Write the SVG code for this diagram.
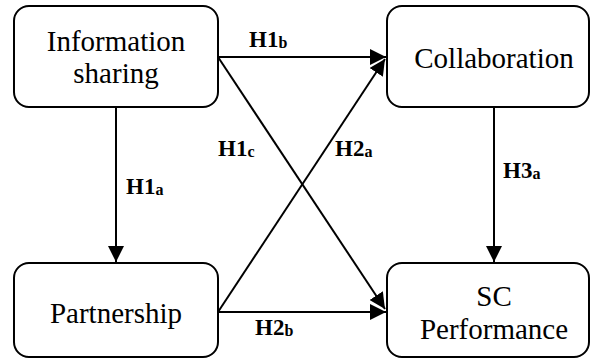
<svg xmlns="http://www.w3.org/2000/svg" width="591" height="359" viewBox="0 0 591 359">
<style>
.box{fill:#fff;stroke:#000;stroke-width:2}
.ln{stroke:#000;stroke-width:2;fill:none;marker-end:url(#ah)}
</style>
<defs>
<marker id="ah" markerUnits="userSpaceOnUse" markerWidth="16" markerHeight="16" viewBox="0 0 16 16" refX="16" refY="8" orient="auto">
<path d="M0,0 L16,8 L0,16 Z" fill="#000"/>
</marker>
</defs>
<rect width="591" height="359" fill="#fff"/>
<g id="connectors">
<line class="ln" x1="116" y1="107" x2="116" y2="262"/>
<line class="ln" x1="494" y1="107" x2="494" y2="262"/>
<line class="ln" x1="218" y1="57" x2="386" y2="57"/>
<line class="ln" x1="218" y1="57" x2="385" y2="309"/>
<line class="ln" x1="218" y1="312" x2="385" y2="59"/>
<line class="ln" x1="218" y1="312" x2="386" y2="312"/>
</g>
<g id="labels" font-family="Liberation Serif" font-size="23" font-weight="bold" fill="#000">
<text x="249" y="47">H1<tspan font-size="16" dy="1">b</tspan></text>
<text x="218" y="156">H1<tspan font-size="16" dy="1">c</tspan></text>
<text x="335" y="156">H2<tspan font-size="16" dy="1">a</tspan></text>
<text x="126" y="194">H1<tspan font-size="16" dy="1">a</tspan></text>
<text x="503" y="178">H3<tspan font-size="16" dy="1">a</tspan></text>
<text x="255" y="335">H2<tspan font-size="16" dy="1">b</tspan></text>
</g>
<g id="info">
<rect class="box" x="14" y="6" width="204" height="101" rx="15"/>
<text x="116" y="51" font-family="Liberation Serif" font-size="29" text-anchor="middle">Information</text>
<text x="116" y="83" font-family="Liberation Serif" font-size="29" text-anchor="middle">sharing</text>
</g>
<g id="collab">
<rect class="box" x="387" y="6" width="202" height="101" rx="15"/>
<text x="494" y="68" font-family="Liberation Serif" font-size="29" text-anchor="middle">Collaboration</text>
</g>
<g id="partner">
<rect class="box" x="14" y="263" width="204" height="94" rx="15"/>
<text x="116" y="323" font-family="Liberation Serif" font-size="29" text-anchor="middle">Partnership</text>
</g>
<g id="scperf">
<rect class="box" x="387" y="263" width="202" height="94" rx="15"/>
<text x="494" y="306" font-family="Liberation Serif" font-size="29" text-anchor="middle">SC</text>
<text x="494" y="339" font-family="Liberation Serif" font-size="29" text-anchor="middle">Performance</text>
</g>
</svg>
